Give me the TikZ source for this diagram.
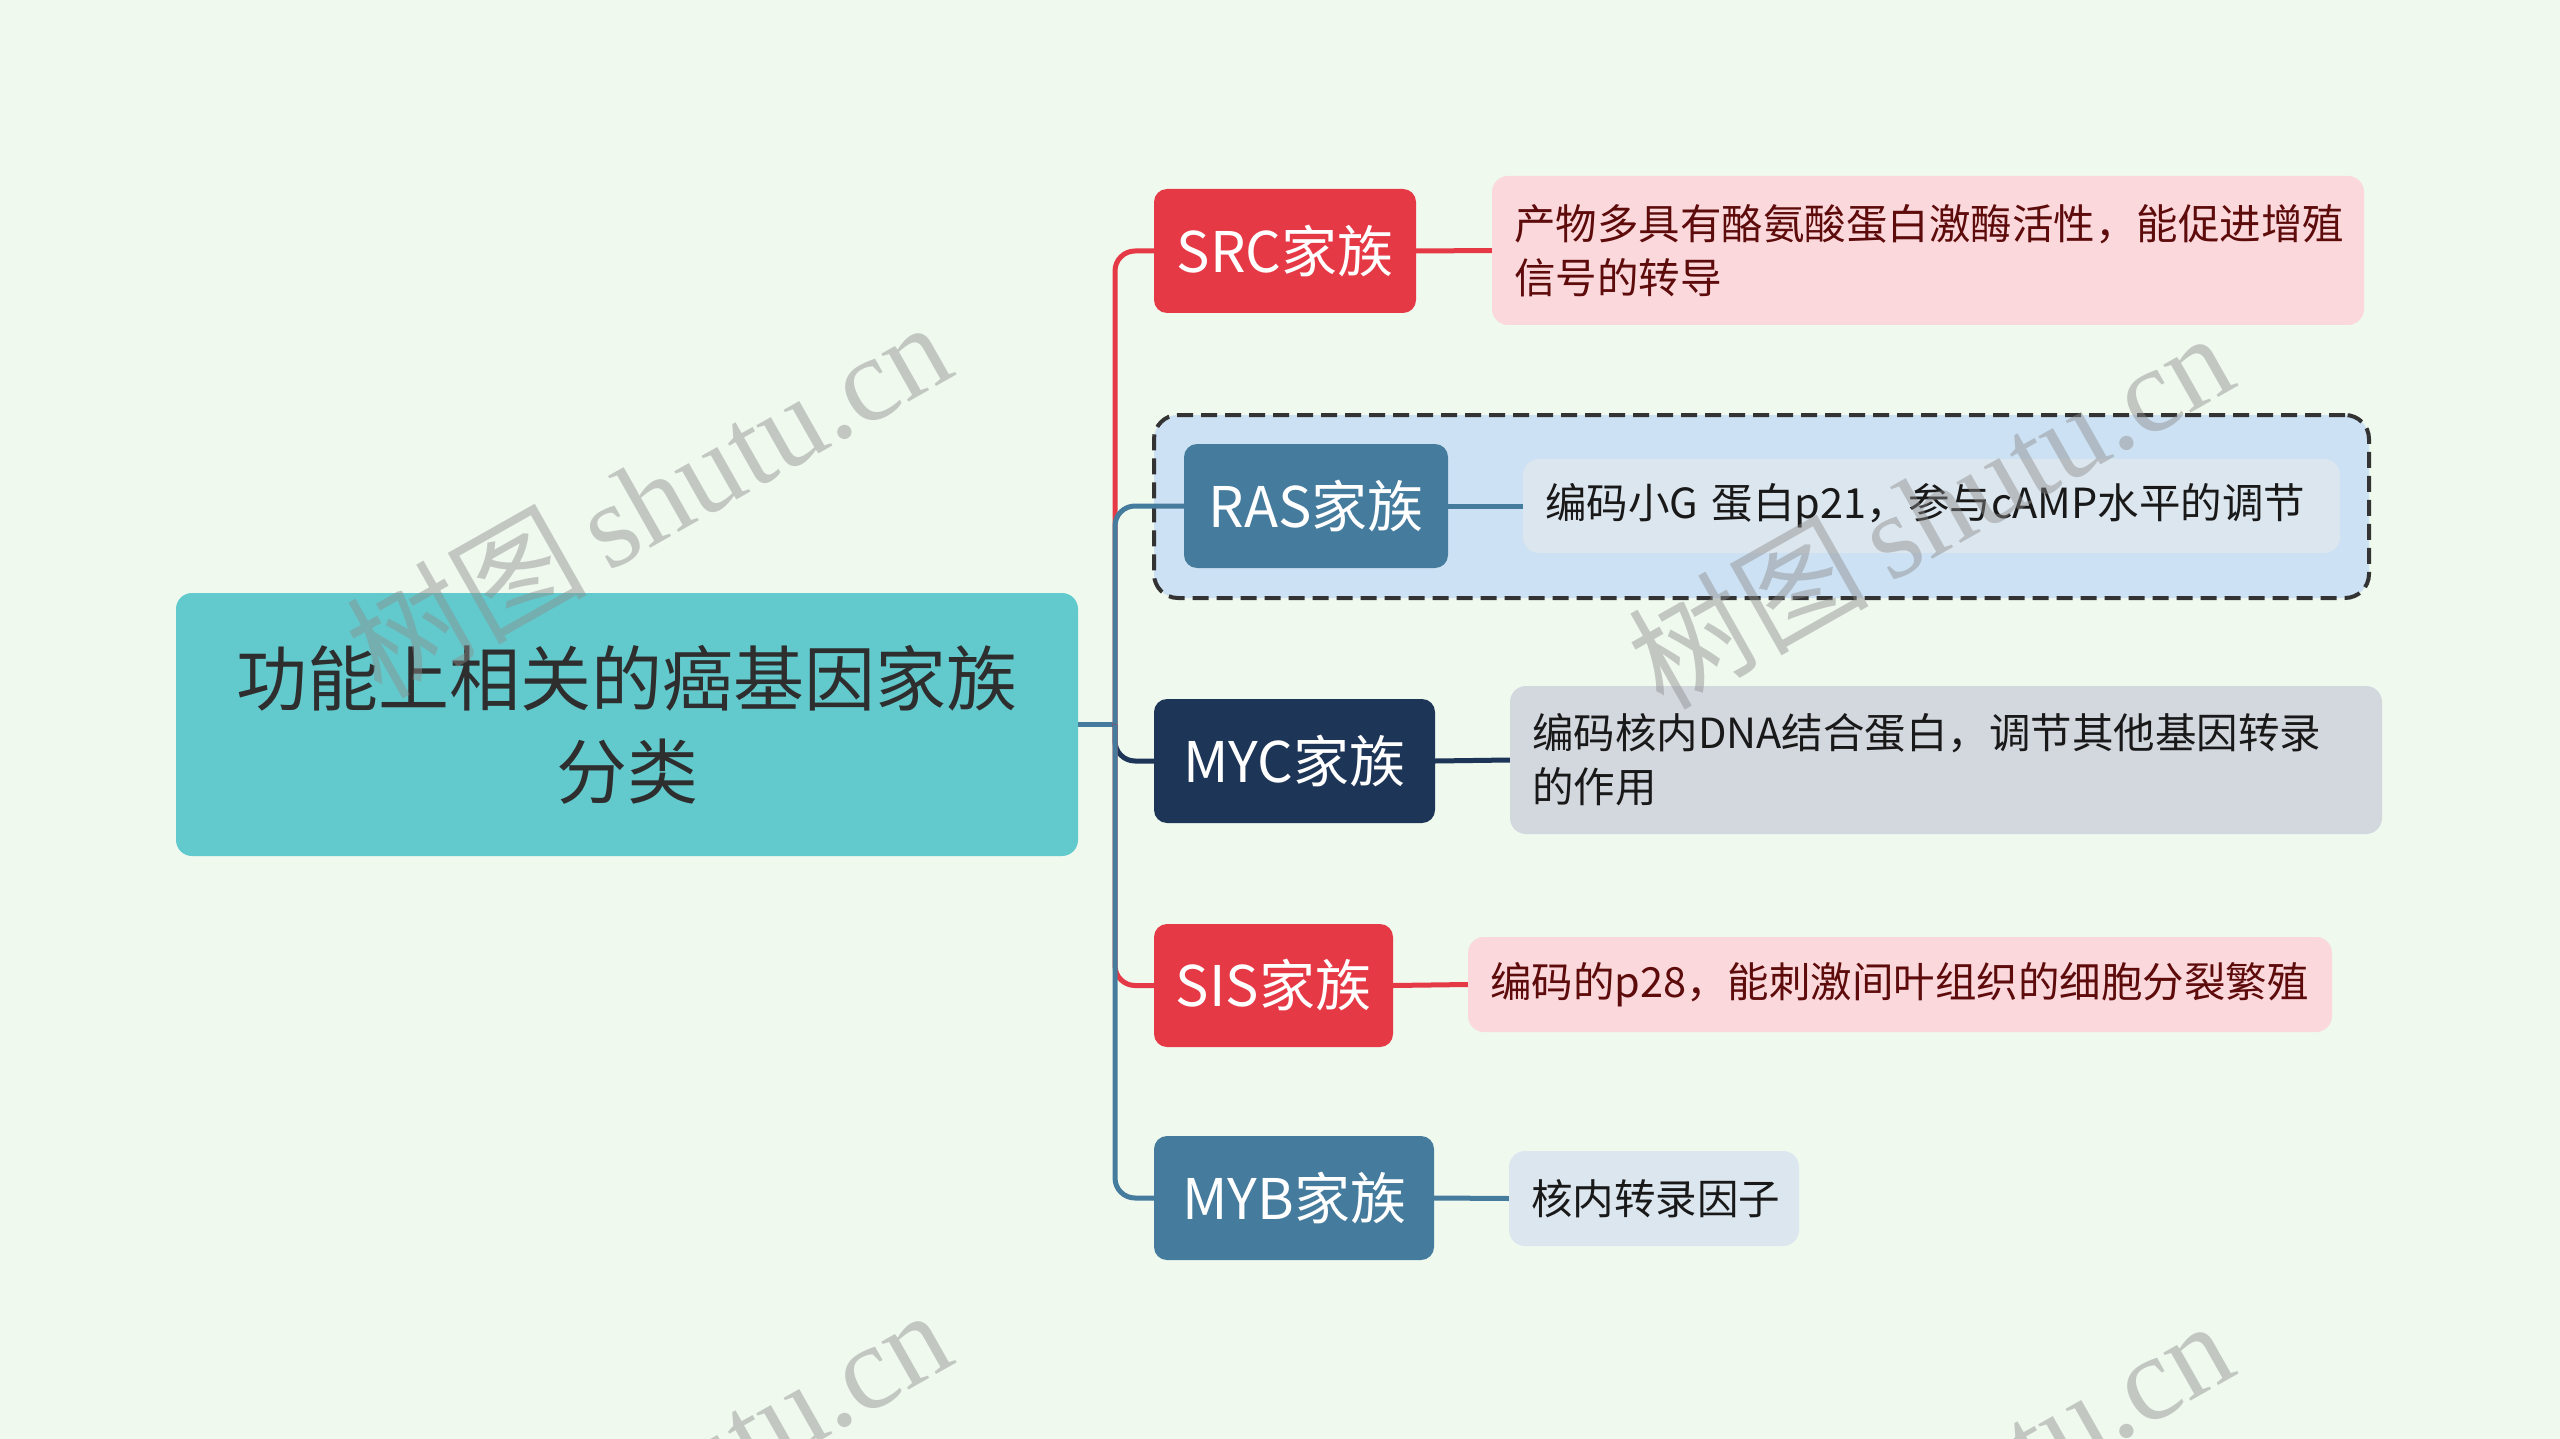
\documentclass[tikz,border=0pt]{standalone}
\usepackage{fontspec}
\setmainfont{Noto Sans CJK SC}
\newfontfamily\wmserif{Liberation Serif}
\newfontfamily\wmcjk{Noto Sans CJK SC}
\definecolor{bgc}{HTML}{EFF9EE}
\definecolor{rootc}{HTML}{62CACD}
\definecolor{redc}{HTML}{E63946}
\definecolor{navyc}{HTML}{1D3557}
\definecolor{bluec}{HTML}{457B9D}
\definecolor{pinkc}{HTML}{FAD8DC}
\definecolor{greyc}{HTML}{D3D8DF}
\definecolor{paleblue}{HTML}{DCE6EE}
\definecolor{groupc}{HTML}{CCE1F3}
\definecolor{darkred}{HTML}{5E0B0B}
\definecolor{roottext}{HTML}{2E2E2E}
\begin{document}
\begin{tikzpicture}[x=1pt,y=-1pt,
  child/.style={rounded corners=13pt, inner sep=0pt, align=center, text=white,
    font=\fontsize{56}{60}\selectfont},
  desc/.style={rounded corners=16pt, inner xsep=22pt, inner ysep=0pt, align=left,
    font=\fontsize{41.5}{54}\selectfont},
  conn/.style={line width=5pt, rounded corners=20pt},
  wm/.style={rotate=29.5, text=black!45, opacity=0.45, inner sep=0pt}
]
\useasboundingbox (0,0) rectangle (2560,1439);
\fill[bgc] (0,0) rectangle (2560,1439);

% root
\node[fill=rootc, rounded corners=16pt, minimum width=902pt, minimum height=263pt,
  inner sep=0pt, align=center, text=roottext, font=\fontsize{71}{93}\selectfont]
  (root) at (627,724.5) {功能上相关的癌基因家族\\分类};

% group box around RAS
\node[fill=groupc, draw=black!80, line width=4pt, dash pattern=on 16pt off 8pt,
  rounded corners=24pt, minimum width=1215pt, minimum height=183pt, inner sep=0pt]
  (rasgroup) at (1761.5,506.5) {};

% children
\node[child, fill=redc, minimum width=262pt, minimum height=124pt] (src) at (1285,251) {SRC家族};
\node[child, fill=bluec, minimum width=264pt, minimum height=124pt] (ras) at (1316,506) {RAS家族};
\node[child, fill=navyc, minimum width=281pt, minimum height=124pt] (myc) at (1294.5,761) {MYC家族};
\node[child, fill=redc, minimum width=239pt, minimum height=123pt] (sis) at (1273.5,985.5) {SIS家族};
\node[child, fill=bluec, minimum width=280pt, minimum height=124pt] (myb) at (1294,1198) {MYB家族};

% descriptions
\node[desc, fill=pinkc, text=darkred, text width=828pt, minimum height=149pt] (srcd) at (1928,250.5)
  {产物多具有酪氨酸蛋白激酶活性，能促进增殖\\信号的转导};
\node[desc, fill=paleblue, text=black!90, text width=773pt, minimum height=94pt] (rasd) at (1931.5,506)
  {编码小G 蛋白p21，参与cAMP水平的调节};
\node[desc, fill=greyc, text=black!90, text width=828pt, minimum height=148pt] (mycd) at (1946,760)
  {编码核内DNA结合蛋白，调节其他基因转录\\的作用};
\node[desc, fill=pinkc, text=darkred, text width=820pt, minimum height=95pt] (sisd) at (1900,984.5)
  {编码的p28，能刺激间叶组织的细胞分裂繁殖};
\node[desc, fill=paleblue, text=black!90, text width=246pt, minimum height=95pt] (mybd) at (1654,1198.5)
  {核内转录因子};

% connectors
\coordinate (trunk) at (1115,724.5);
\draw[line width=5pt, bluec] (root.east) -- (trunk);
\draw[conn, redc] (trunk) |- (src.west);
\draw[conn, bluec] (trunk) |- (ras.west);
\draw[conn, navyc] (trunk) |- (myc.west);
\draw[conn, redc] (trunk) |- (sis.west);
\draw[conn, bluec] (trunk) |- (myb.west);

\draw[line width=5pt, redc] (src.east) -- (srcd.west);
\draw[line width=5pt, bluec] (ras.east) -- (rasd.west);
\draw[line width=5pt, navyc] (myc.east) -- (mycd.west);
\draw[line width=5pt, redc] (sis.east) -- (sisd.west);
\draw[line width=5pt, bluec] (myb.east) -- (mybd.west);

% watermarks
\begin{scope}
\clip (0,0) rectangle (2560,1439);
\node[wm] (wm1) at (648,498) {\fontsize{120}{120}\wmcjk 树图\,\wmserif shutu.cn};
\node[wm] (wm2) at (1930,509) {\fontsize{120}{120}\wmcjk 树图\,\wmserif shutu.cn};
\node[wm] (wm3) at (648,1486) {\fontsize{120}{120}\wmcjk 树图\,\wmserif shutu.cn};
\node[wm] (wm4) at (1930,1497) {\fontsize{120}{120}\wmcjk 树图\,\wmserif shutu.cn};
\end{scope}
\end{tikzpicture}
\end{document}
